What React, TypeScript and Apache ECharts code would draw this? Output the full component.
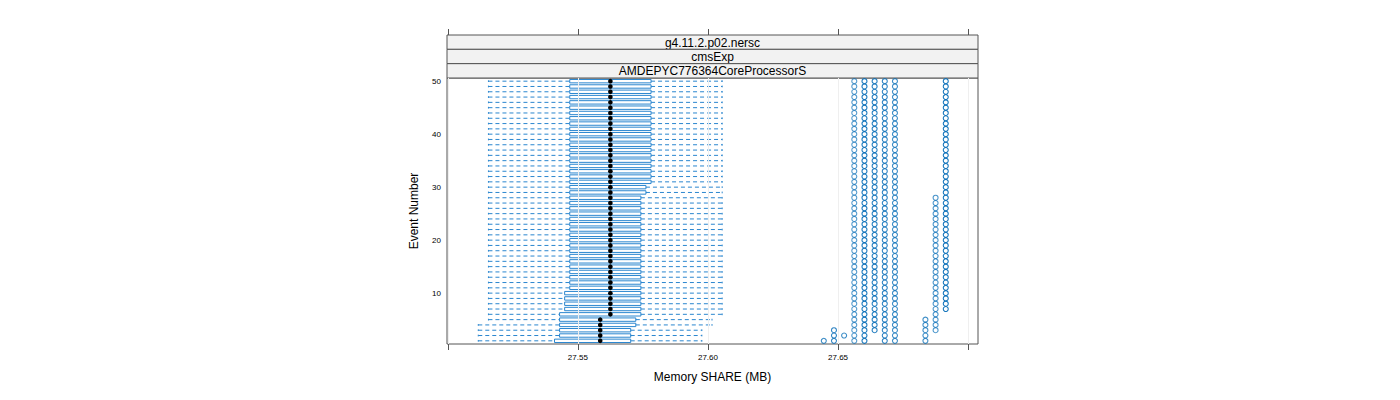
import React, { useEffect, useRef } from "react";
import * as echarts from "echarts";

// ---- data (Memory SHARE in MB, per event) ----
const events = [
  1, 2, 3, 4, 5, 6, 7, 8, 9, 10, 11, 12, 13, 14, 15, 16, 17, 18, 19, 20, 21, 22, 23, 24, 25,
  26, 27, 28, 29, 30, 31, 32, 33, 34, 35, 36, 37, 38, 39, 40, 41, 42, 43, 44, 45, 46, 47, 48, 49, 50,
];

const whiskerLow = [
  27.51172, 27.51172, 27.51172, 27.51172, 27.51563, 27.51563, 27.51563, 27.51563, 27.51563, 27.51563,
  27.51563, 27.51563, 27.51563, 27.51563, 27.51563, 27.51563, 27.51563, 27.51563, 27.51563, 27.51563,
  27.51563, 27.51563, 27.51563, 27.51563, 27.51563, 27.51563, 27.51563, 27.51563, 27.51563, 27.51563,
  27.51563, 27.51563, 27.51563, 27.51563, 27.51563, 27.51563, 27.51563, 27.51563, 27.51563, 27.51563,
  27.51563, 27.51563, 27.51563, 27.51563, 27.51563, 27.51563, 27.51563, 27.51563, 27.51563, 27.51563,
];
const q1 = [
  27.54102, 27.54297, 27.54297, 27.54297, 27.54297, 27.54297, 27.54492, 27.54492, 27.54492, 27.54492,
  27.54688, 27.54688, 27.54688, 27.54688, 27.54688, 27.54688, 27.54688, 27.54688, 27.54688, 27.54688,
  27.54688, 27.54688, 27.54688, 27.54688, 27.54688, 27.54688, 27.54688, 27.54688, 27.54688, 27.54688,
  27.54688, 27.54688, 27.54688, 27.54688, 27.54688, 27.54688, 27.54688, 27.54688, 27.54688, 27.54688,
  27.54688, 27.54688, 27.54688, 27.54688, 27.54688, 27.54688, 27.54688, 27.54688, 27.54688, 27.54688,
];
const median = [
  27.55859, 27.55859, 27.55859, 27.55859, 27.55859, 27.5625, 27.5625, 27.5625, 27.5625, 27.5625,
  27.5625, 27.5625, 27.5625, 27.5625, 27.5625, 27.5625, 27.5625, 27.5625, 27.5625, 27.5625,
  27.5625, 27.5625, 27.5625, 27.5625, 27.5625, 27.5625, 27.5625, 27.5625, 27.5625, 27.5625,
  27.5625, 27.5625, 27.5625, 27.5625, 27.5625, 27.5625, 27.5625, 27.5625, 27.5625, 27.5625,
  27.5625, 27.5625, 27.5625, 27.5625, 27.5625, 27.5625, 27.5625, 27.5625, 27.5625, 27.5625,
];
const q3 = [
  27.57031, 27.57031, 27.57031, 27.57227, 27.57227, 27.57422, 27.57422, 27.57422, 27.57422, 27.57422,
  27.57422, 27.57422, 27.57422, 27.57422, 27.57422, 27.57422, 27.57422, 27.57422, 27.57422, 27.57422,
  27.57422, 27.57422, 27.57422, 27.57422, 27.57422, 27.57422, 27.57422, 27.57422, 27.57617, 27.57617,
  27.57813, 27.57813, 27.57813, 27.57813, 27.57813, 27.57813, 27.57813, 27.57813, 27.57813, 27.57813,
  27.57813, 27.57813, 27.57813, 27.57813, 27.57813, 27.57813, 27.57813, 27.57813, 27.57813, 27.57813,
];
const whiskerHigh = [
  27.59766, 27.59766, 27.59766, 27.60156, 27.60156, 27.60547, 27.60547, 27.60547, 27.60547, 27.60547,
  27.60547, 27.60547, 27.60547, 27.60547, 27.60547, 27.60547, 27.60547, 27.60547, 27.60547, 27.60547,
  27.60547, 27.60547, 27.60547, 27.60547, 27.60547, 27.60547, 27.60547, 27.60547, 27.60547, 27.60547,
  27.60547, 27.60547, 27.60547, 27.60547, 27.60547, 27.60547, 27.60547, 27.60547, 27.60547, 27.60547,
  27.60547, 27.60547, 27.60547, 27.60547, 27.60547, 27.60547, 27.60547, 27.60547, 27.60547, 27.60547,
];

// outliers: one value (MB) and the events in which it occurs
const outlierValues = [27.64453, 27.64844, 27.65234, 27.65625, 27.66016, 27.66406, 27.66797, 27.67188, 27.68359, 27.6875, 27.69141];
const outlierEvents = [
  [1],
  [1, 2, 3],
  [2],
  [1, 2, 3, 4, 5, 6, 7, 8, 9, 10, 11, 12, 13, 14, 15, 16, 17, 18, 19, 20, 21, 22, 23, 24, 25, 26, 27, 28, 29, 30, 31, 32, 33, 34, 35, 36, 37, 38, 39, 40, 41, 42, 43, 44, 45, 46, 47, 48, 49, 50],
  [1, 2, 3, 4, 5, 6, 7, 8, 9, 10, 11, 12, 13, 14, 15, 16, 17, 18, 19, 20, 21, 22, 23, 24, 25, 26, 27, 28, 29, 30, 31, 32, 33, 34, 35, 36, 37, 38, 39, 40, 41, 42, 43, 44, 45, 46, 47, 48, 49, 50],
  [3, 4, 5, 6, 7, 8, 9, 10, 11, 12, 13, 14, 15, 16, 17, 18, 19, 20, 21, 22, 23, 24, 25, 26, 27, 28, 29, 30, 31, 32, 33, 34, 35, 36, 37, 38, 39, 40, 41, 42, 43, 44, 45, 46, 47, 48, 49, 50],
  [1, 2, 3, 4, 5, 6, 7, 8, 9, 10, 11, 12, 13, 14, 15, 16, 17, 18, 19, 20, 21, 22, 23, 24, 25, 26, 27, 28, 29, 30, 31, 32, 33, 34, 35, 36, 37, 38, 39, 40, 41, 42, 43, 44, 45, 46, 47, 48, 49, 50],
  [1, 2, 3, 4, 5, 6, 7, 8, 9, 10, 11, 12, 13, 14, 15, 16, 17, 18, 19, 20, 21, 22, 23, 24, 25, 26, 27, 28, 29, 30, 31, 32, 33, 34, 35, 36, 37, 38, 39, 40, 41, 42, 43, 44, 45, 46, 47, 48, 49, 50],
  [1, 2, 3, 4, 5],
  [3, 4, 5, 6, 7, 8, 9, 10, 11, 12, 13, 14, 15, 16, 17, 18, 19, 20, 21, 22, 23, 24, 25, 26, 27, 28],
  [7, 8, 9, 10, 11, 12, 13, 14, 15, 16, 17, 18, 19, 20, 21, 22, 23, 24, 25, 26, 27, 28, 29, 30, 31, 32, 33, 34, 35, 36, 37, 38, 39, 40, 41, 42, 43, 44, 45, 46, 47, 48, 49, 50],
];

const xTicks = [27.5, 27.55, 27.6, 27.65, 27.7];
const xLabels = [27.55, 27.6, 27.65];
const yTicks = [10, 20, 30, 40, 50];
const strips = ["g4.11.2.p02.nersc", "cmsExp", "AMDEPYC776364CoreProcessorS"];

const BLUE = "#2a86cf";
const POINT_BLUE = "#0a6fb8";
const FONT = "Liberation Sans, Arial, sans-serif";

export default function App() {
  const ref = useRef<HTMLDivElement>(null);
  useEffect(() => {
    if (!ref.current) return;
    const chart = echarts.init(ref.current, null, { renderer: "svg" });

    const boxData = events.map((e, i) => [e, whiskerLow[i], q1[i], median[i], q3[i], whiskerHigh[i]]);

    const gridLeft = 447, gridTop = 78, gridW = 531, gridH = 266;
    const stripTop = 35;
    const stripH = (gridTop - stripTop) / strips.length;

    const renderBox = (params: any, api: any) => {
      const y = api.value(0);
      const lo = api.coord([api.value(1), y]);
      const a = api.coord([api.value(2), y]);
      const m = api.coord([api.value(3), y]);
      const b = api.coord([api.value(4), y]);
      const hi = api.coord([api.value(5), y]);
      const h = api.size([0, 1])[1] * 0.64;
      const cy = lo[1];
      const dashed = { stroke: BLUE, lineWidth: 1, lineDash: [4, 3] };
      const solid = { stroke: BLUE, lineWidth: 1 };
      return {
        type: "group",
        children: [
          { type: "line", shape: { x1: lo[0], y1: cy, x2: a[0], y2: cy }, style: dashed },
          { type: "line", shape: { x1: b[0], y1: cy, x2: hi[0], y2: cy }, style: dashed },
          { type: "line", shape: { x1: lo[0], y1: cy - h / 4, x2: lo[0], y2: cy + h / 4 }, style: solid },
          { type: "line", shape: { x1: hi[0], y1: cy - h / 4, x2: hi[0], y2: cy + h / 4 }, style: solid },
          { type: "rect", shape: { x: a[0], y: cy - h / 2, width: b[0] - a[0], height: h }, style: { fill: "none", stroke: BLUE, lineWidth: 1 } },
          { type: "circle", shape: { cx: m[0], cy: cy, r: 2.3 }, style: { fill: "#000" } },
        ],
      };
    };

    const outlierOpacity = [0.8, 0.85, 0.8, 0.7, 0.95, 0.9, 0.85, 0.8, 0.8, 0.75, 0.95];
    const outlierSeries = outlierValues.map((v, k) => ({
      type: "scatter",
      xAxisIndex: 0,
      yAxisIndex: 0,
      symbol: "circle",
      symbolSize: 5,
      silent: true,
      z: 3,
      itemStyle: { color: "rgba(0,0,0,0)", borderColor: POINT_BLUE, borderWidth: 1.1, opacity: outlierOpacity[k] },
      data: outlierEvents[k].map((e) => [v, e]),
    }));

    const axisCommon = {
      type: "value",
      min: 27.4997,
      max: 27.7038,
      splitLine: { show: false },
      axisLine: { show: false },
    };

    chart.setOption({
      animation: false,
      backgroundColor: "#ffffff",
      textStyle: { fontFamily: FONT },
      grid: {
        left: gridLeft,
        top: gridTop,
        width: gridW,
        height: gridH,
        show: true,
        borderColor: "#555",
        borderWidth: 1,
        backgroundColor: "transparent",
      },
      xAxis: [
        {
          ...axisCommon,
          position: "bottom",
          name: "Memory SHARE (MB)",
          nameLocation: "middle",
          nameGap: 27,
          nameTextStyle: { fontSize: 12, color: "#000", fontFamily: FONT },
          axisTick: { show: true, customValues: xTicks, length: 6, lineStyle: { color: "#555" } },
          axisLabel: {
            show: true,
            customValues: xLabels,
            fontSize: 8,
            color: "#000",
            margin: 9,
            fontFamily: FONT,
            formatter: (v: number) => v.toFixed(2),
          },
        },
        {
          ...axisCommon,
          position: "top",
          offset: gridTop - stripTop,
          axisTick: { show: true, customValues: xTicks, length: 6, lineStyle: { color: "#555" } },
          axisLabel: { show: false },
        },
      ],
      yAxis: {
        type: "value",
        min: 0.4,
        max: 50.6,
        name: "Event Number",
        nameLocation: "middle",
        nameGap: 27,
        nameTextStyle: { fontSize: 12, color: "#000", fontFamily: FONT },
        splitLine: { show: false },
        axisLine: { show: false },
        axisTick: { show: false, customValues: yTicks },
        axisLabel: { show: true, customValues: yTicks, fontSize: 8, color: "#000", margin: 6, fontFamily: FONT },
      },
      graphic: strips.map((s, i) => ({
        type: "group",
        children: [
          {
            type: "rect",
            shape: { x: gridLeft, y: stripTop + i * stripH, width: gridW, height: stripH },
            style: { fill: "#f2f2f2", stroke: "#555", lineWidth: 1 },
          },
          {
            type: "text",
            x: gridLeft + gridW / 2,
            y: stripTop + i * stripH + stripH / 2 + 0.5,
            style: { text: s, fill: "#000", font: "12px " + FONT, align: "center", verticalAlign: "middle" },
          },
        ],
      })),
      series: [
        {
          type: "line",
          data: [],
          silent: true,
          z: 1,
          markLine: {
            silent: true,
            symbol: "none",
            label: { show: false },
            lineStyle: { color: "#efefef", width: 1, type: "solid" },
            data: xTicks.map((t) => ({ xAxis: t })),
          },
        },
        {
          type: "custom",
          renderItem: renderBox,
          data: boxData,
          encode: { x: [1, 2, 3, 4, 5], y: 0 },
          silent: true,
          z: 2,
        },
        ...outlierSeries,
      ],
    });

    return () => chart.dispose();
  }, []);

  return <div ref={ref} style={{ position: "absolute", left: 0, top: 0, width: 1400, height: 400 }} />;
}
